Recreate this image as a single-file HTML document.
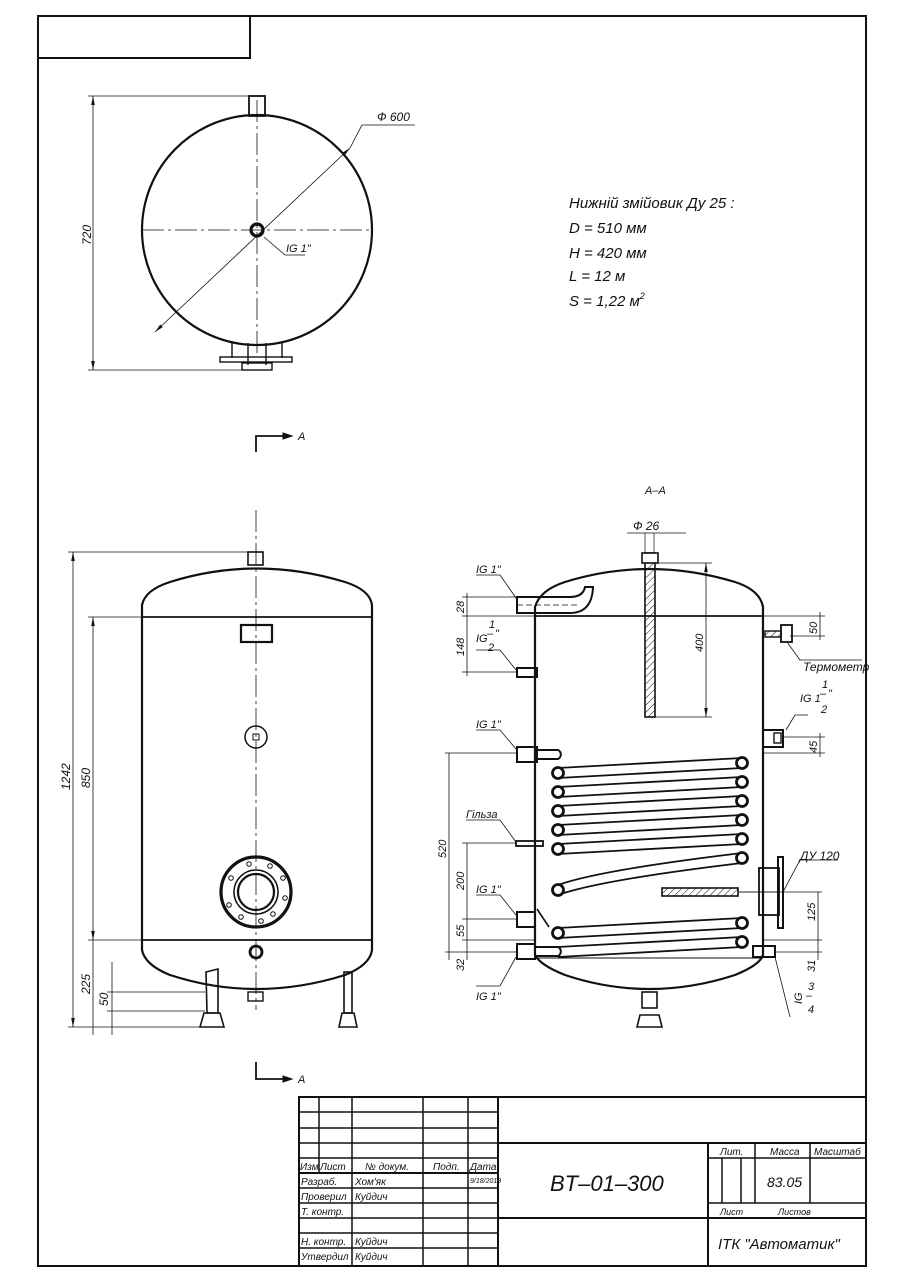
<!DOCTYPE html>
<html><head><meta charset="utf-8"><style>
html,body{margin:0;padding:0;background:#fff}
svg{display:block}
text{font-family:"Liberation Sans","DejaVu Sans",sans-serif;font-style:italic;fill:#111}
</style></head><body>
<svg width="905" height="1280" viewBox="0 0 905 1280" xmlns="http://www.w3.org/2000/svg">
<defs>
<pattern id="h" width="5" height="5" patternUnits="userSpaceOnUse" patternTransform="rotate(45)"><line x1="0" y1="0" x2="0" y2="5" stroke="#111" stroke-width="1"/></pattern>
<marker id="a" viewBox="0 0 10 10" refX="10" refY="5" markerWidth="9" markerHeight="9" markerUnits="userSpaceOnUse" orient="auto-start-reverse"><path d="M0,3 L10,5 L0,7 z" fill="#111"/></marker>
</defs>
<g fill="none" stroke="#111">
<rect x="38" y="16" width="828" height="1250" stroke-width="2"/>
<polyline points="38,58 250,58 250,16" stroke-width="2"/>

<!-- top view -->
<circle cx="257" cy="230" r="115" stroke-width="2.2"/>
<rect x="249" y="96" width="16" height="20" stroke-width="1.8"/>
<line x1="257" y1="100" x2="257" y2="355" stroke-width="0.8" stroke-dasharray="22,4,3,4"/>
<line x1="142" y1="230" x2="372" y2="230" stroke-width="0.8" stroke-dasharray="22,4,3,4"/>
<circle cx="257" cy="230" r="6" stroke-width="3.2"/>
<line x1="155" y1="332" x2="350" y2="148" stroke-width="0.8" marker-start="url(#a)" marker-end="url(#a)"/>
<polyline points="350,148 362,125 415,125" stroke-width="0.8"/>
<polyline points="264,237 285,255 305,255" stroke-width="0.8"/>
<g stroke-width="1.4">
<line x1="232" y1="343" x2="232" y2="358"/><line x1="282" y1="343" x2="282" y2="358"/>
<line x1="248" y1="343" x2="248" y2="365"/><line x1="266" y1="343" x2="266" y2="365"/>
<rect x="220" y="357" width="72" height="5"/>
<rect x="242" y="363" width="30" height="7"/>
</g>
<line x1="93" y1="96" x2="93" y2="370" stroke-width="0.8" marker-start="url(#a)" marker-end="url(#a)"/>
<line x1="88" y1="96" x2="250" y2="96" stroke-width="0.8"/>
<line x1="88" y1="370" x2="245" y2="370" stroke-width="0.8"/>

<polyline points="256,452 256,436 290,436" stroke-width="1.8"/>
<path d="M283,433 L292,436 L283,439z" fill="#111"/>
<polyline points="256,1062 256,1079 290,1079" stroke-width="1.8"/>
<path d="M283,1076 L292,1079 L283,1082z" fill="#111"/>

<!-- side view -->
<path d="M142,950 L142,605 Q145,590 170,582 Q256,555 345,582 Q370,590 372,605 L372,950 Q370,965 345,975 Q256,1003 170,975 Q145,965 142,950 Z" stroke-width="2.2"/>
<line x1="142" y1="617" x2="372" y2="617" stroke-width="1.8"/>
<line x1="142" y1="940" x2="372" y2="940" stroke-width="1.8"/>
<rect x="248" y="552" width="15" height="13" stroke-width="1.6"/>
<rect x="241" y="625" width="31" height="17" stroke-width="2.2"/>
<line x1="256" y1="510" x2="256" y2="1010" stroke-width="0.8" stroke-dasharray="22,4,3,4"/>
<circle cx="256" cy="737" r="11" stroke-width="1.5"/>
<rect x="253" y="734" width="6" height="6" stroke-width="1"/>
<circle cx="256" cy="892" r="35" stroke-width="3.2"/>
<circle cx="256" cy="892" r="22" stroke-width="1.5"/>
<circle cx="256" cy="892" r="18" stroke-width="2.2"/>
<g stroke-width="1">
<circle cx="249" cy="864" r="2.3"/><circle cx="270" cy="866" r="2.3"/><circle cx="283" cy="878" r="2.3"/><circle cx="285" cy="898" r="2.3"/><circle cx="273" cy="914" r="2.3"/><circle cx="261" cy="921" r="2.3"/><circle cx="241" cy="917" r="2.3"/><circle cx="229" cy="905" r="2.3"/><circle cx="231" cy="878" r="2.3"/>
</g>
<circle cx="256" cy="952" r="6" stroke-width="2.8"/>
<rect x="248" y="992" width="15" height="9" stroke-width="1.4"/>
<path d="M206,972 L218,969 L218,1013 L207,1013 Z" stroke-width="1.6"/>
<path d="M204,1013 L220,1013 L224,1027 L200,1027 Z" stroke-width="1.6"/>
<rect x="344" y="972" width="8" height="41" stroke-width="1.6"/>
<path d="M342,1013 L354,1013 L357,1027 L339,1027 Z" stroke-width="1.6"/>
<g stroke-width="0.8">
<line x1="68" y1="552" x2="250" y2="552"/>
<line x1="68" y1="1027" x2="205" y2="1027"/>
<line x1="73" y1="552" x2="73" y2="1027" marker-start="url(#a)" marker-end="url(#a)"/>
<line x1="88" y1="617" x2="142" y2="617"/>
<line x1="88" y1="940" x2="142" y2="940"/>
<line x1="93" y1="617" x2="93" y2="940" marker-start="url(#a)" marker-end="url(#a)"/>
<line x1="93" y1="940" x2="93" y2="1035"/>
<line x1="112" y1="962" x2="112" y2="1035"/>
<line x1="107" y1="992" x2="205" y2="992"/>
<line x1="107" y1="1011" x2="205" y2="1011"/>
</g>

<!-- section A-A -->
<path d="M535,955 L535,607 Q540,590 565,582 Q649,556 735,582 Q760,590 763,607 L763,955 Q760,965 735,975 Q649,1003 565,975 Q540,965 535,955" stroke-width="2.2"/>
<line x1="535" y1="616" x2="763" y2="616" stroke-width="1.8"/>
<line x1="535" y1="958" x2="763" y2="958" stroke-width="1"/>
<rect x="645" y="553" width="10" height="164" fill="url(#h)" stroke-width="1.6"/>
<rect x="642" y="553" width="16" height="10" fill="#fff" stroke-width="1.6"/>
<line x1="645" y1="533" x2="645" y2="553" stroke-width="0.7"/>
<line x1="654" y1="533" x2="654" y2="553" stroke-width="0.7"/>
<line x1="627" y1="533" x2="686" y2="533" stroke-width="0.8"/>
<path d="M517,597 L570,597 Q583,597 585,587 L593,587 Q592,613 570,613 L517,613 Z" stroke-width="2"/>
<line x1="517" y1="605" x2="580" y2="605" stroke-width="0.7" stroke-dasharray="6,3"/>
<rect x="517" y="668" width="20" height="9" stroke-width="2"/>
<rect x="517" y="747" width="20" height="15" stroke-width="2"/>
<path d="M537,750 L558,750 A5,5 0 0 1 558,759 L537,759" stroke-width="2"/>
<rect x="516" y="841" width="27" height="5" stroke-width="1.8"/>
<rect x="517" y="912" width="18" height="15" stroke-width="2"/>
<line x1="537" y1="909" x2="549" y2="927" stroke-width="1.6"/>
<rect x="517" y="944" width="18" height="15" stroke-width="2"/>
<path d="M535,947 L558,947 A5,5 0 0 1 558,956 L535,956" stroke-width="2"/>
<g stroke-width="1.8">
<line x1="558" y1="768" x2="742" y2="758"/><line x1="558" y1="778" x2="742" y2="768"/>
<line x1="558" y1="787" x2="742" y2="777"/><line x1="558" y1="797" x2="742" y2="787"/>
<line x1="558" y1="806" x2="742" y2="796"/><line x1="558" y1="816" x2="742" y2="806"/>
<line x1="558" y1="825" x2="742" y2="815"/><line x1="558" y1="835" x2="742" y2="825"/>
<line x1="558" y1="844" x2="742" y2="834"/><line x1="558" y1="854" x2="742" y2="844"/>
<path d="M558,885 Q600,870 742,853"/><path d="M558,895 Q600,880 742,863"/>
<line x1="558" y1="928" x2="742" y2="918"/><line x1="558" y1="938" x2="742" y2="928"/>
<line x1="558" y1="947" x2="742" y2="937"/><line x1="558" y1="957" x2="742" y2="947"/>
</g>
<g stroke-width="2.8" fill="#fff">
<circle cx="742" cy="763" r="5.5"/><circle cx="742" cy="782" r="5.5"/><circle cx="742" cy="801" r="5.5"/><circle cx="742" cy="820" r="5.5"/><circle cx="742" cy="839" r="5.5"/><circle cx="742" cy="858" r="5.5"/>
<circle cx="558" cy="773" r="5.5"/><circle cx="558" cy="792" r="5.5"/><circle cx="558" cy="811" r="5.5"/><circle cx="558" cy="830" r="5.5"/><circle cx="558" cy="849" r="5.5"/><circle cx="558" cy="890" r="5.5"/>
<circle cx="742" cy="923" r="5.5"/><circle cx="742" cy="942" r="5.5"/><circle cx="558" cy="933" r="5.5"/>
</g>
<rect x="765" y="631" width="16" height="6" fill="url(#h)" stroke-width="1.4"/>
<rect x="781" y="625" width="11" height="17" stroke-width="1.8"/>
<rect x="763" y="730" width="20" height="17" stroke-width="2"/>
<rect x="774" y="733" width="7" height="10" stroke-width="1.4"/>
<rect x="759" y="868" width="20" height="47" stroke-width="1.8"/>
<rect x="778" y="857" width="5" height="71" stroke-width="2"/>
<rect x="662" y="888" width="76" height="8" fill="url(#h)" stroke-width="1.6"/>
<line x1="738" y1="892" x2="779" y2="892" stroke-width="0.8"/>
<rect x="753" y="946" width="22" height="11" stroke-width="2"/>
<rect x="642" y="992" width="15" height="16" stroke-width="1.6"/>
<path d="M640,1015 L659,1015 L662,1027 L637,1027 Z" stroke-width="1.6"/>
<g stroke-width="0.8">
<line x1="658" y1="563" x2="712" y2="563"/>
<line x1="655" y1="717" x2="712" y2="717"/>
<line x1="706" y1="563" x2="706" y2="717" marker-start="url(#a)" marker-end="url(#a)"/>
<line x1="763" y1="616" x2="825" y2="616"/><line x1="790" y1="636" x2="825" y2="636"/>
<line x1="820" y1="612" x2="820" y2="640"/>
<line x1="783" y1="737" x2="825" y2="737"/><line x1="763" y1="753" x2="825" y2="753"/>
<line x1="820" y1="733" x2="820" y2="757"/>
<line x1="740" y1="892" x2="822" y2="892"/><line x1="763" y1="940" x2="822" y2="940"/><line x1="775" y1="952" x2="822" y2="952"/>
<line x1="818" y1="892" x2="818" y2="960"/>
<line x1="462" y1="597" x2="517" y2="597"/><line x1="462" y1="616" x2="535" y2="616"/><line x1="462" y1="672" x2="517" y2="672"/>
<line x1="467" y1="593" x2="467" y2="676"/>
<line x1="445" y1="753" x2="517" y2="753"/><line x1="445" y1="952" x2="517" y2="952"/>
<line x1="449" y1="753" x2="449" y2="960"/>
<line x1="462" y1="843" x2="516" y2="843"/><line x1="462" y1="919" x2="517" y2="919"/><line x1="462" y1="940" x2="535" y2="940"/>
<line x1="467" y1="843" x2="467" y2="960"/>
<polyline points="476,575 500,575 516,598"/>
<polyline points="476,650 500,650 516,670"/>
<polyline points="476,730 500,730 516,749"/>
<polyline points="466,820 500,820 516,842"/>
<polyline points="476,895 500,895 516,915"/>
<polyline points="476,986 500,986 516,957"/>
<polyline points="787,642 800,660 862,660"/>
<polyline points="786,730 795,715 808,715"/>
<polyline points="783,892 800,860 838,860"/>
<polyline points="775,957 790,1017"/>
</g>

<g stroke-width="1.5">
<rect x="299" y="1097" width="567" height="169" stroke-width="2"/>
<line x1="498" y1="1097" x2="498" y2="1266" stroke-width="2"/>
<line x1="498" y1="1143" x2="866" y2="1143" stroke-width="2"/>
<line x1="498" y1="1218" x2="708" y2="1218" stroke-width="2"/>
<line x1="708" y1="1143" x2="708" y2="1266" stroke-width="2"/>
<line x1="708" y1="1158" x2="866" y2="1158"/>
<line x1="708" y1="1203" x2="866" y2="1203"/>
<line x1="708" y1="1218" x2="866" y2="1218" stroke-width="2"/>
<line x1="722" y1="1158" x2="722" y2="1203"/><line x1="741" y1="1158" x2="741" y2="1203"/>
<line x1="755" y1="1143" x2="755" y2="1203"/>
<line x1="810" y1="1143" x2="810" y2="1203"/>
<line x1="319" y1="1097" x2="319" y2="1173"/>
<line x1="352" y1="1097" x2="352" y2="1266"/>
<line x1="423" y1="1097" x2="423" y2="1266"/>
<line x1="468" y1="1097" x2="468" y2="1266"/>
<line x1="299" y1="1112" x2="498" y2="1112"/>
<line x1="299" y1="1128" x2="498" y2="1128"/>
<line x1="299" y1="1143" x2="498" y2="1143"/>
<line x1="299" y1="1158" x2="498" y2="1158"/>
<line x1="299" y1="1173" x2="498" y2="1173" stroke-width="2"/>
<line x1="299" y1="1188" x2="498" y2="1188"/>
<line x1="299" y1="1203" x2="498" y2="1203"/>
<line x1="299" y1="1218" x2="498" y2="1218"/>
<line x1="299" y1="1233" x2="498" y2="1233"/>
<line x1="299" y1="1248" x2="498" y2="1248"/>
</g>
</g>

<g font-size="12">
<text x="377" y="121">Ф 600</text>
<text x="286" y="252" font-size="11">IG 1"</text>
<text transform="translate(91,245) rotate(-90)">720</text>
<text x="298" y="440" font-size="11">A</text>
<text x="298" y="1083" font-size="11">A</text>
<text transform="translate(70,790) rotate(-90)">1242</text>
<text transform="translate(90,788) rotate(-90)">850</text>
<text transform="translate(90,994) rotate(-90)">225</text>
<text transform="translate(108,1006) rotate(-90)">50</text>
</g>
<g font-size="15">
<text x="569" y="208">Нижній змійовик Ду 25 :</text>
<text x="569" y="233">D = 510 мм</text>
<text x="569" y="258">H = 420 мм</text>
<text x="569" y="281">L = 12 м</text>
<text x="569" y="306">S = 1,22 м<tspan font-size="9" dy="-7">2</tspan></text>
</g>
<g font-size="11">
<text x="645" y="494">A–A</text>
<text x="633" y="530" font-size="12">Ф 26</text>
<text x="476" y="573">IG 1"</text>
<text x="476" y="642">IG</text><text x="489" y="628">1</text><text x="487" y="637">–</text><text x="495" y="637">"</text><text x="488" y="651">2</text>
<text x="476" y="728">IG 1"</text>
<text x="466" y="818">Гільза</text>
<text x="476" y="893">IG 1"</text>
<text x="476" y="1000">IG 1"</text>
<text x="803" y="671" font-size="12">Термометр</text>
<text x="800" y="702">IG 1</text><text x="822" y="688">1</text><text x="820" y="697">–</text><text x="828" y="697">"</text><text x="821" y="713">2</text>
<text x="800" y="860" font-size="12">ДУ 120</text>
<text transform="translate(802,1004) rotate(-90)">IG</text>
<text x="808" y="990">3</text><text x="806" y="999">–</text><text x="808" y="1013">4</text>
<text transform="translate(703,652) rotate(-90)">400</text>
<text transform="translate(817,634) rotate(-90)">50</text>
<text transform="translate(817,753) rotate(-90)">45</text>
<text transform="translate(815,921) rotate(-90)">125</text>
<text transform="translate(815,972) rotate(-90)">31</text>
<text transform="translate(464,613) rotate(-90)">28</text>
<text transform="translate(464,656) rotate(-90)">148</text>
<text transform="translate(446,858) rotate(-90)">520</text>
<text transform="translate(464,890) rotate(-90)">200</text>
<text transform="translate(464,937) rotate(-90)">55</text>
<text transform="translate(464,971) rotate(-90)">32</text>
</g>
<g font-size="10">
<text x="300" y="1170">Изм</text><text x="320" y="1170">Лист</text><text x="365" y="1170">№ докум.</text><text x="433" y="1170">Подп.</text><text x="470" y="1170">Дата</text>
<text x="301" y="1185">Разраб.</text><text x="355" y="1185">Хом'як</text><text x="470" y="1183" font-size="7">9/18/2019</text>
<text x="301" y="1200">Проверил</text><text x="355" y="1200">Куйдич</text>
<text x="301" y="1215">Т. контр.</text>
<text x="301" y="1245">Н. контр.</text><text x="355" y="1245">Куйдич</text>
<text x="301" y="1260">Утвердил</text><text x="355" y="1260">Куйдич</text>
<text x="720" y="1155">Лит.</text><text x="770" y="1155">Масса</text><text x="814" y="1155">Масштаб</text>
<text x="720" y="1215" font-size="9">Лист</text><text x="778" y="1215" font-size="9">Листов</text>
</g>
<text x="550" y="1191" font-size="22">BT–01–300</text>
<text x="767" y="1187" font-size="14">83.05</text>
<text x="718" y="1249" font-size="15">ІТК "Автоматик"</text>
</svg>
</body></html>
